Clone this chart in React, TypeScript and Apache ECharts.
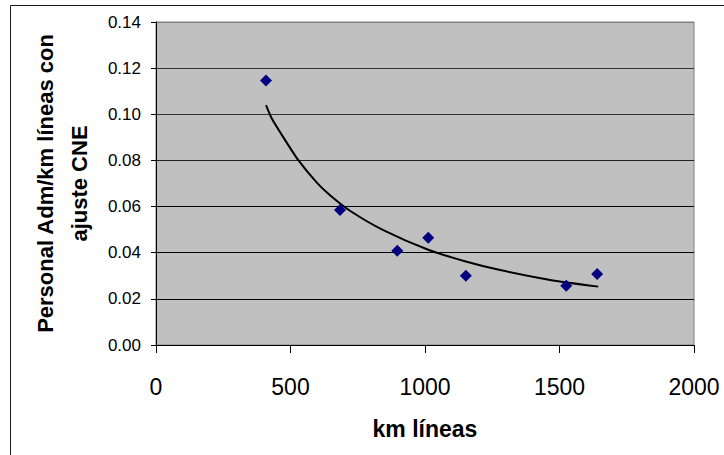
import React, { useEffect, useRef } from "react";
import * as echarts from "echarts";

const kmLineas = [409, 684, 897, 1012, 1152, 1525, 1640];
const personalAdm = [0.1146, 0.0585, 0.0409, 0.0465, 0.030, 0.0257, 0.0308];

const trendX = [409, 430, 473, 529, 597, 647, 721, 845, 1012, 1155, 1279, 1465, 1644];
const trendY = [0.104, 0.0983, 0.0901, 0.0801, 0.0705, 0.0649, 0.0582, 0.0498, 0.0413, 0.0361, 0.0325, 0.0282, 0.0253];

const xTitle = "km líneas";
const yTitle = "Personal Adm/km líneas con\najuste CNE";

const FONT = 'Arial, "Liberation Sans", sans-serif';

export default function App() {
  const ref = useRef<HTMLDivElement>(null);
  useEffect(() => {
    if (!ref.current) return;
    const chart = echarts.init(ref.current, null, { renderer: "svg" });
    const scatterData = kmLineas.map((x, i) => [x, personalAdm[i]]);
    const trendData = trendX.map((x, i) => [x, trendY[i]]);
    chart.setOption({
      animation: false,
      backgroundColor: "#ffffff",
      grid: {
        left: 156,
        right: 30,
        top: 22,
        bottom: 110,
        show: true,
        backgroundColor: "#c0c0c0",
        borderColor: "#808080",
        borderWidth: 1,
      },
      graphic: [
        {
          type: "rect",
          shape: { x: 10.5, y: 5.5, width: 730, height: 470 },
          style: { fill: "none", stroke: "#1a1a1a", lineWidth: 1 },
          silent: true,
        },
      ],
      xAxis: {
        type: "value",
        min: 0,
        max: 2000,
        interval: 500,
        name: xTitle,
        nameLocation: "middle",
        nameGap: 72,
        nameTextStyle: { fontFamily: FONT, fontSize: 23, fontWeight: "bold", color: "#000" },
        axisLine: { show: true, onZero: false, lineStyle: { color: "#000", width: 1 } },
        axisTick: { show: true, inside: false, length: 8, lineStyle: { color: "#000" } },
        axisLabel: {
          fontFamily: FONT,
          fontSize: 23,
          color: "#000",
          margin: 30,
          formatter: (v: number) => String(v),
        },
        splitLine: { show: false },
      },
      yAxis: {
        type: "value",
        min: 0,
        max: 0.14,
        interval: 0.02,
        name: yTitle,
        nameLocation: "middle",
        nameRotate: 90,
        nameGap: 60,
        nameTextStyle: {
          fontFamily: FONT,
          fontSize: 22,
          fontWeight: "bold",
          color: "#000",
          lineHeight: 34,
          align: "center",
        },
        axisLine: { show: true, onZero: false, lineStyle: { color: "#000", width: 1 } },
        axisTick: { show: true, inside: false, length: 5, lineStyle: { color: "#000" } },
        axisLabel: {
          fontFamily: FONT,
          fontSize: 17,
          color: "#000",
          margin: 15,
          formatter: (v: number) => v.toFixed(2),
        },
        splitLine: {
          show: true,
          lineStyle: {
            color: ["#000", "#000", "#000", "#000", "#222", "#333", "#333", "#808080"],
            width: 1,
          },
        },
      },
      series: [
        {
          type: "line",
          data: trendData,
          smooth: 0.2,
          showSymbol: false,
          symbol: "none",
          lineStyle: { color: "#000", width: 2 },
          z: 2,
        },
        {
          type: "scatter",
          data: scatterData,
          symbol: "diamond",
          symbolSize: [12, 12],
          itemStyle: { color: "#000080", opacity: 1 },
          z: 3,
        },
      ],
    });
    return () => chart.dispose();
  }, []);
  return (
    <div
      ref={ref}
      style={{ position: "fixed", left: 0, top: 0, width: 724, height: 455, background: "#fff" }}
    />
  );
}
